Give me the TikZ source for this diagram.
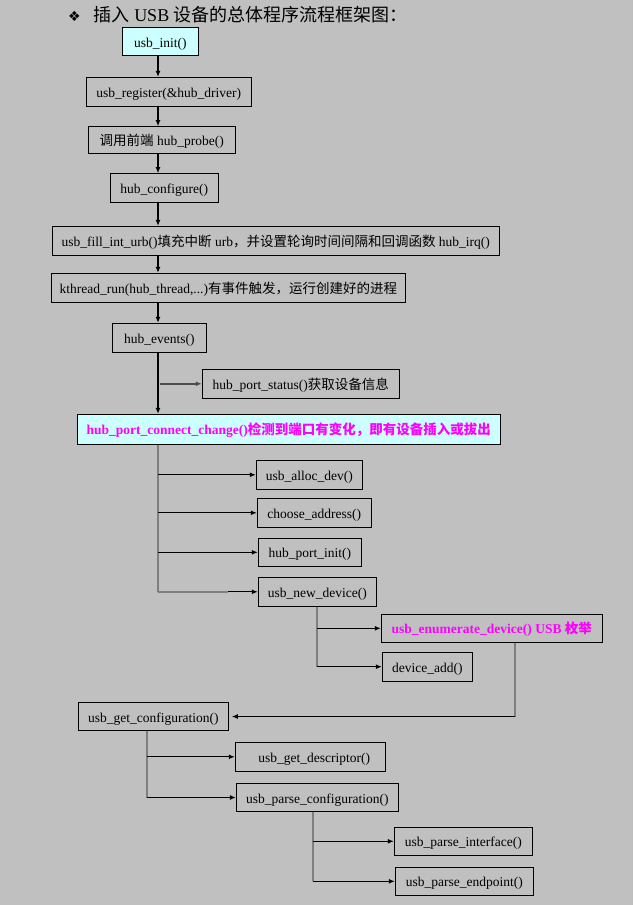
\documentclass[tikz,border=0pt]{standalone}
\usepackage{fontspec}
\setmainfont{Liberation Serif}
\newfontfamily\cjk{Noto Sans CJK SC}
\newfontfamily\dingfont{DejaVu Sans}
\newcommand{\zhs}[1]{{\cjk #1}}
\usetikzlibrary{arrows.meta}
\definecolor{bggray}{HTML}{C0C0C0}
\definecolor{boxcyan}{HTML}{CCFFFF}
\definecolor{hilite}{HTML}{FF00FF}
\definecolor{linegray}{HTML}{7F7F7F}
\tikzset{
  fbox/.style={draw=black, line width=1pt, inner sep=0pt, align=center,
    text height=14pt, text depth=3pt,
    font=\fontsize{13.5}{15}\selectfont},
  hot/.style={fbox, text=hilite, font=\fontsize{13.5}{15}\selectfont\bfseries},
  sz/.style 2 args={minimum width=#1pt, minimum height=#2pt},
  arr/.style={draw=black, line width=1.1pt, -{Latex[length=6pt,width=5pt]}},
  trunk/.style={draw=linegray, line width=1.8pt},
}
\begin{document}
\begin{tikzpicture}[x=1pt,y=-1pt]
\fill[bggray] (0,0) rectangle (633,905);
\useasboundingbox (0,0) rectangle (633,905);

% heading
\node[anchor=west, font=\fontsize{18}{20}\selectfont, inner sep=0pt] (title) at (68,15)
  {{\dingfont\fontsize{14}{16}\selectfont ❖}\hspace{13pt}\zhs{插入} USB \zhs{设备的总体程序流程框架图：}};

% spine positions
\coordinate (spine) at (158,0);
\coordinate (spineB) at (317,0);
\coordinate (spineC) at (515.3,0);
\coordinate (spineD) at (146.7,0);
\coordinate (spineE) at (312.7,0);

% main chain
\node[fbox, fill=boxcyan, sz={76}{28.4}] (init) at (160.3,41.5) {usb\_init()};
\node[fbox, sz={165.3}{28.7}] (reg) at (168.7,91.7) {usb\_register(\&hub\_driver)};
\node[fbox, sz={147}{26.6}] (probe) at (161.8,140) {\zhs{调用前端} hub\_probe()};
\node[fbox, sz={108}{28.6}] (conf) at (164.3,188) {hub\_configure()};
\node[fbox, sz={447}{28.7}] (fill) at (275.8,240.7)
  {usb\_fill\_int\_urb()\zhs{填充中断} urb\zhs{，并设置轮询时间间隔和回调函数} hub\_irq()};
\node[fbox, sz={354}{29}] (kthr) at (228.3,287.8)
  {kthread\_run(hub\_thread,...)\zhs{有事件触发，运行创建好的进程}};
\node[fbox, sz={94}{29}] (events) at (159.3,337.8) {hub\_events()};
\node[fbox, sz={197}{29}] (status) at (300.8,383.8) {hub\_port\_status()\zhs{获取设备信息}};
\node[hot, fill=boxcyan, sz={423}{30}] (change) at (288.8,429.3)
  {hub\_port\_connect\_change()\zhs{检测到端口有变化，即有设备插入或拔出}};

% port handling
\node[fbox, sz={106}{29}] (alloc) at (309.3,474.8) {usb\_alloc\_dev()};
\node[fbox, sz={114}{29}] (addr) at (314.3,512.8) {choose\_address()};
\node[fbox, sz={103}{28}] (pinit) at (309.8,552.3) {hub\_port\_init()};
\node[fbox, sz={118}{29}] (newdev) at (317.3,591.8) {usb\_new\_device()};
\node[hot, sz={221}{28}] (enum) at (491.8,628.3) {usb\_enumerate\_device() USB \zhs{枚举}};
\node[fbox, sz={90}{28.7}] (devadd) at (427.3,666.7) {device\_add()};

% configuration parsing
\node[fbox, sz={150}{27.6}] (getconf) at (153.3,716.5) {usb\_get\_configuration()};
\node[fbox, sz={150}{29}] (getdesc) at (310.3,756.8) {\hspace{8pt}usb\_get\_descriptor()};
\node[fbox, sz={162}{27.6}] (parseconf) at (317.3,797.5) {usb\_parse\_configuration()};
\node[fbox, sz={138}{28}] (parseif) at (463.3,841.3) {usb\_parse\_interface()};
\node[fbox, sz={138}{28}] (parseep) at (464.3,881.3) {usb\_parse\_endpoint()};

% connectors: main chain
\draw[arr] (init.south -| spine) -- (reg.north -| spine);
\draw[arr] (reg.south -| spine) -- (probe.north -| spine);
\draw[arr] (probe.south -| spine) -- (conf.north -| spine);
\draw[arr] (conf.south -| spine) -- (fill.north -| spine);
\draw[arr] (fill.south -| spine) -- (kthr.north -| spine);
\draw[arr] (kthr.south -| spine) -- (events.north -| spine);
\draw[arr] (events.south -| spine) -- (change.north -| spine);
\draw[arr, draw=black!70, line width=1.6pt] ([xshift=1.5pt]status.west -| spine) -- (status.west);

% connectors: port handling
\draw[trunk] (change.south -| spine) -- (newdev.west -| spine);
\draw[arr] (alloc.west -| spine) -- (alloc.west);
\draw[arr] (addr.west -| spine) -- (addr.west);
\draw[arr] (pinit.west -| spine) -- (pinit.west);
\draw[trunk] (newdev.west -| spine) -- ([xshift=-30pt]newdev.west);
\draw[arr] ([xshift=-30pt]newdev.west) -- (newdev.west);

\draw[trunk] (newdev.south -| spineB) -- (devadd.west -| spineB);
\draw[arr] (enum.west -| spineB) -- (enum.west);
\draw[arr] (devadd.west -| spineB) -- (devadd.west);

\draw[trunk] (enum.south -| spineC) -- (getconf.east -| spineC);
\draw[arr] (getconf.east -| spineC) -- ([xshift=3pt]getconf.east);

% connectors: configuration parsing
\draw[trunk] (getconf.south -| spineD) -- (parseconf.west -| spineD);
\draw[arr] (getdesc.west -| spineD) -- (getdesc.west);
\draw[arr] (parseconf.west -| spineD) -- (parseconf.west);

\draw[trunk] (parseconf.south -| spineE) -- (parseep.west -| spineE);
\draw[arr] (parseif.west -| spineE) -- (parseif.west);
\draw[arr] (parseep.west -| spineE) -- (parseep.west);
\end{tikzpicture}
\end{document}
